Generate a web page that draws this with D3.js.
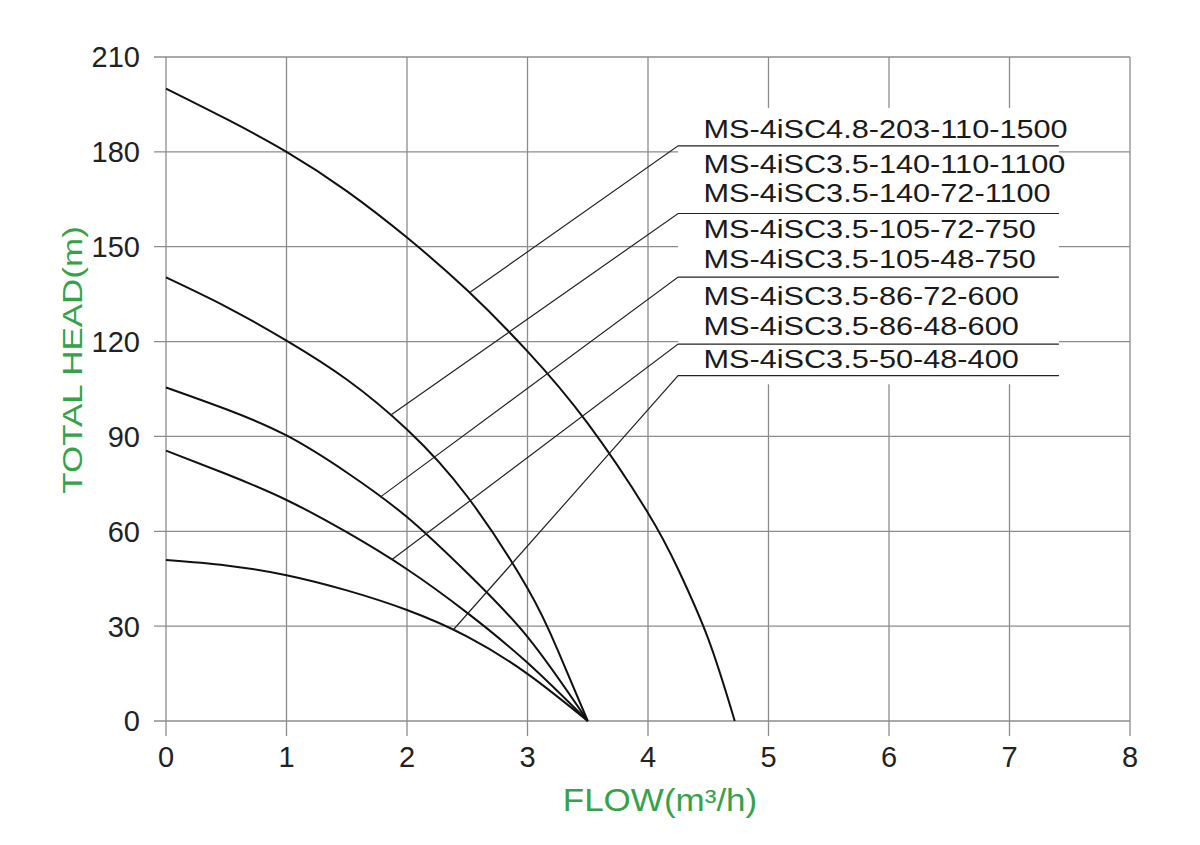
<!DOCTYPE html>
<html>
<head>
<meta charset="utf-8">
<script src="https://cdn.jsdelivr.net/npm/d3@7"></script>
<style>
  body { margin: 0; background: #fff; }
  #chart { width: 1200px; height: 845px; }
  text { font-family: "Liberation Sans", Arial, Helvetica, sans-serif; }
</style>
</head>
<body>
<div id="chart"></div>
<script>
// axis ticks
const xTicks = [0, 1, 2, 3, 4, 5, 6, 7, 8];
const yTicks = [0, 30, 60, 90, 120, 150, 180, 210];

// pump curves (flow m3/h, head m)
const flowA = [0, 0.5, 1, 1.5, 2, 2.5, 3, 3.5, 4, 4.25, 4.5, 4.72];
const headA = [200, 190.4, 180, 167.6, 152.9, 136.2, 116.9, 94.1, 65.8, 48, 26, 0];
const flowB = [0, 0.5, 1, 1.5, 2, 2.5, 3, 3.25, 3.5];
const headB = [140.3, 131, 120.3, 108, 92.2, 71, 42, 22.5, 0];
const flowC = [0, 0.5, 1, 1.5, 2, 2.5, 3, 3.5];
const headC = [105.5, 98.6, 90.3, 78.6, 64.5, 46.8, 26.6, 0];
const flowD = [0, 0.5, 1, 1.5, 2, 2.5, 3, 3.5];
const headD = [85.5, 78.1, 69.9, 59.7, 48, 34.2, 18.4, 0];
const flowE = [0, 0.5, 1, 1.5, 2, 2.5, 3, 3.5];
const headE = [50.9, 49.2, 46.1, 41.3, 35.1, 26.7, 14.9, 0];

// model labels, top to bottom
const labels = [
  "MS-4iSC4.8-203-110-1500",
  "MS-4iSC3.5-140-110-1100",
  "MS-4iSC3.5-140-72-1100",
  "MS-4iSC3.5-105-72-750",
  "MS-4iSC3.5-105-48-750",
  "MS-4iSC3.5-86-72-600",
  "MS-4iSC3.5-86-48-600",
  "MS-4iSC3.5-50-48-400",
];

// leader lines: point on curve [flow, head] -> underline head level
const leaderFrom = [[2.52, 135.5], [1.863, 96.7], [1.778, 70.8], [1.873, 51], [2.381, 28.7]];
const leaderTo = [181.9, 160.5, 140.4, 119.2, 109.2];

const series = [
  flowA.map((q, i) => ({ q, h: headA[i] })),
  flowB.map((q, i) => ({ q, h: headB[i] })),
  flowC.map((q, i) => ({ q, h: headC[i] })),
  flowD.map((q, i) => ({ q, h: headD[i] })),
  flowE.map((q, i) => ({ q, h: headE[i] })),
];

const width = 1200, height = 845;
const margin = { left: 166, right: 70, top: 57, bottom: 124 };
const innerWidth = width - margin.left - margin.right;
const innerHeight = height - margin.top - margin.bottom;

const gridColor = "#8c8c8c";
const green = "#35a24a";

const svg = d3.select("#chart").append("svg")
  .attr("width", width)
  .attr("height", height);

const g = svg.append("g")
  .attr("transform", `translate(${margin.left},${margin.top})`);

const x = d3.scaleLinear().domain([0, 8]).range([0, innerWidth]);
const y = d3.scaleLinear().domain([0, 210]).range([innerHeight, 0]);

// grid + ticks
g.selectAll(".vgrid").data(xTicks).join("line")
  .attr("x1", d => x(d)).attr("x2", d => x(d))
  .attr("y1", 0).attr("y2", innerHeight + 15)
  .attr("stroke", gridColor).attr("stroke-width", 1.3);

g.selectAll(".hgrid").data(yTicks).join("line")
  .attr("x1", -12).attr("x2", innerWidth)
  .attr("y1", d => y(d)).attr("y2", d => y(d))
  .attr("stroke", gridColor).attr("stroke-width", 1.3);

g.selectAll(".xlab").data(xTicks).join("text")
  .attr("x", d => x(d)).attr("y", innerHeight + 46)
  .attr("text-anchor", "middle")
  .attr("font-size", 29).attr("fill", "#222")
  .text(d => d);

g.selectAll(".ylab").data(yTicks).join("text")
  .attr("x", -26).attr("y", d => y(d)).attr("dy", "0.36em")
  .attr("text-anchor", "end")
  .attr("font-size", 29).attr("fill", "#222")
  .text(d => d);

// white box behind the legend hides the grid there
g.append("rect")
  .attr("x", x(4.25)).attr("y", y(193.9))
  .attr("width", x(7.41) - x(4.25))
  .attr("height", y(106.5) - y(193.9))
  .attr("fill", "#fff");

// curves
const line = d3.line()
  .curve(d3.curveNatural)
  .x(d => x(d.q))
  .y(d => y(d.h));

g.selectAll(".curve").data(series).join("path")
  .attr("fill", "none")
  .attr("stroke", "#111")
  .attr("stroke-width", 2)
  .attr("d", d => line(d));

// leader lines
g.selectAll(".leader").data(leaderFrom).join("polyline")
  .attr("fill", "none")
  .attr("stroke", "#222")
  .attr("stroke-width", 1.2)
  .attr("points", (d, i) => [
    [x(d[0]), y(d[1])],
    [x(4.25), y(leaderTo[i])],
    [x(7.41), y(leaderTo[i])],
  ].map(p => p.join(",")).join(" "));

// label baselines (px from top of plot)
const labelY = [81, 116, 145, 181, 211, 248, 278, 311];
g.selectAll(".model").data(labels).join("text")
  .attr("transform", (d, i) => `translate(${x(4.46)},${labelY[i]}) scale(1.18,1)`)
  .attr("font-size", 26).attr("fill", "#1a1a1a")
  .text(d => d);

// axis titles
svg.append("text")
  .attr("transform", `translate(660,811) scale(1.13,1)`)
  .attr("text-anchor", "middle")
  .attr("font-size", 31).attr("fill", green)
  .text("FLOW(m³/h)");

svg.append("text")
  .attr("transform", `translate(82,360) rotate(-90) scale(1.25,1)`)
  .attr("text-anchor", "middle")
  .attr("font-size", 28).attr("fill", green)
  .text("TOTAL HEAD(m)");
</script>
</body>
</html>
